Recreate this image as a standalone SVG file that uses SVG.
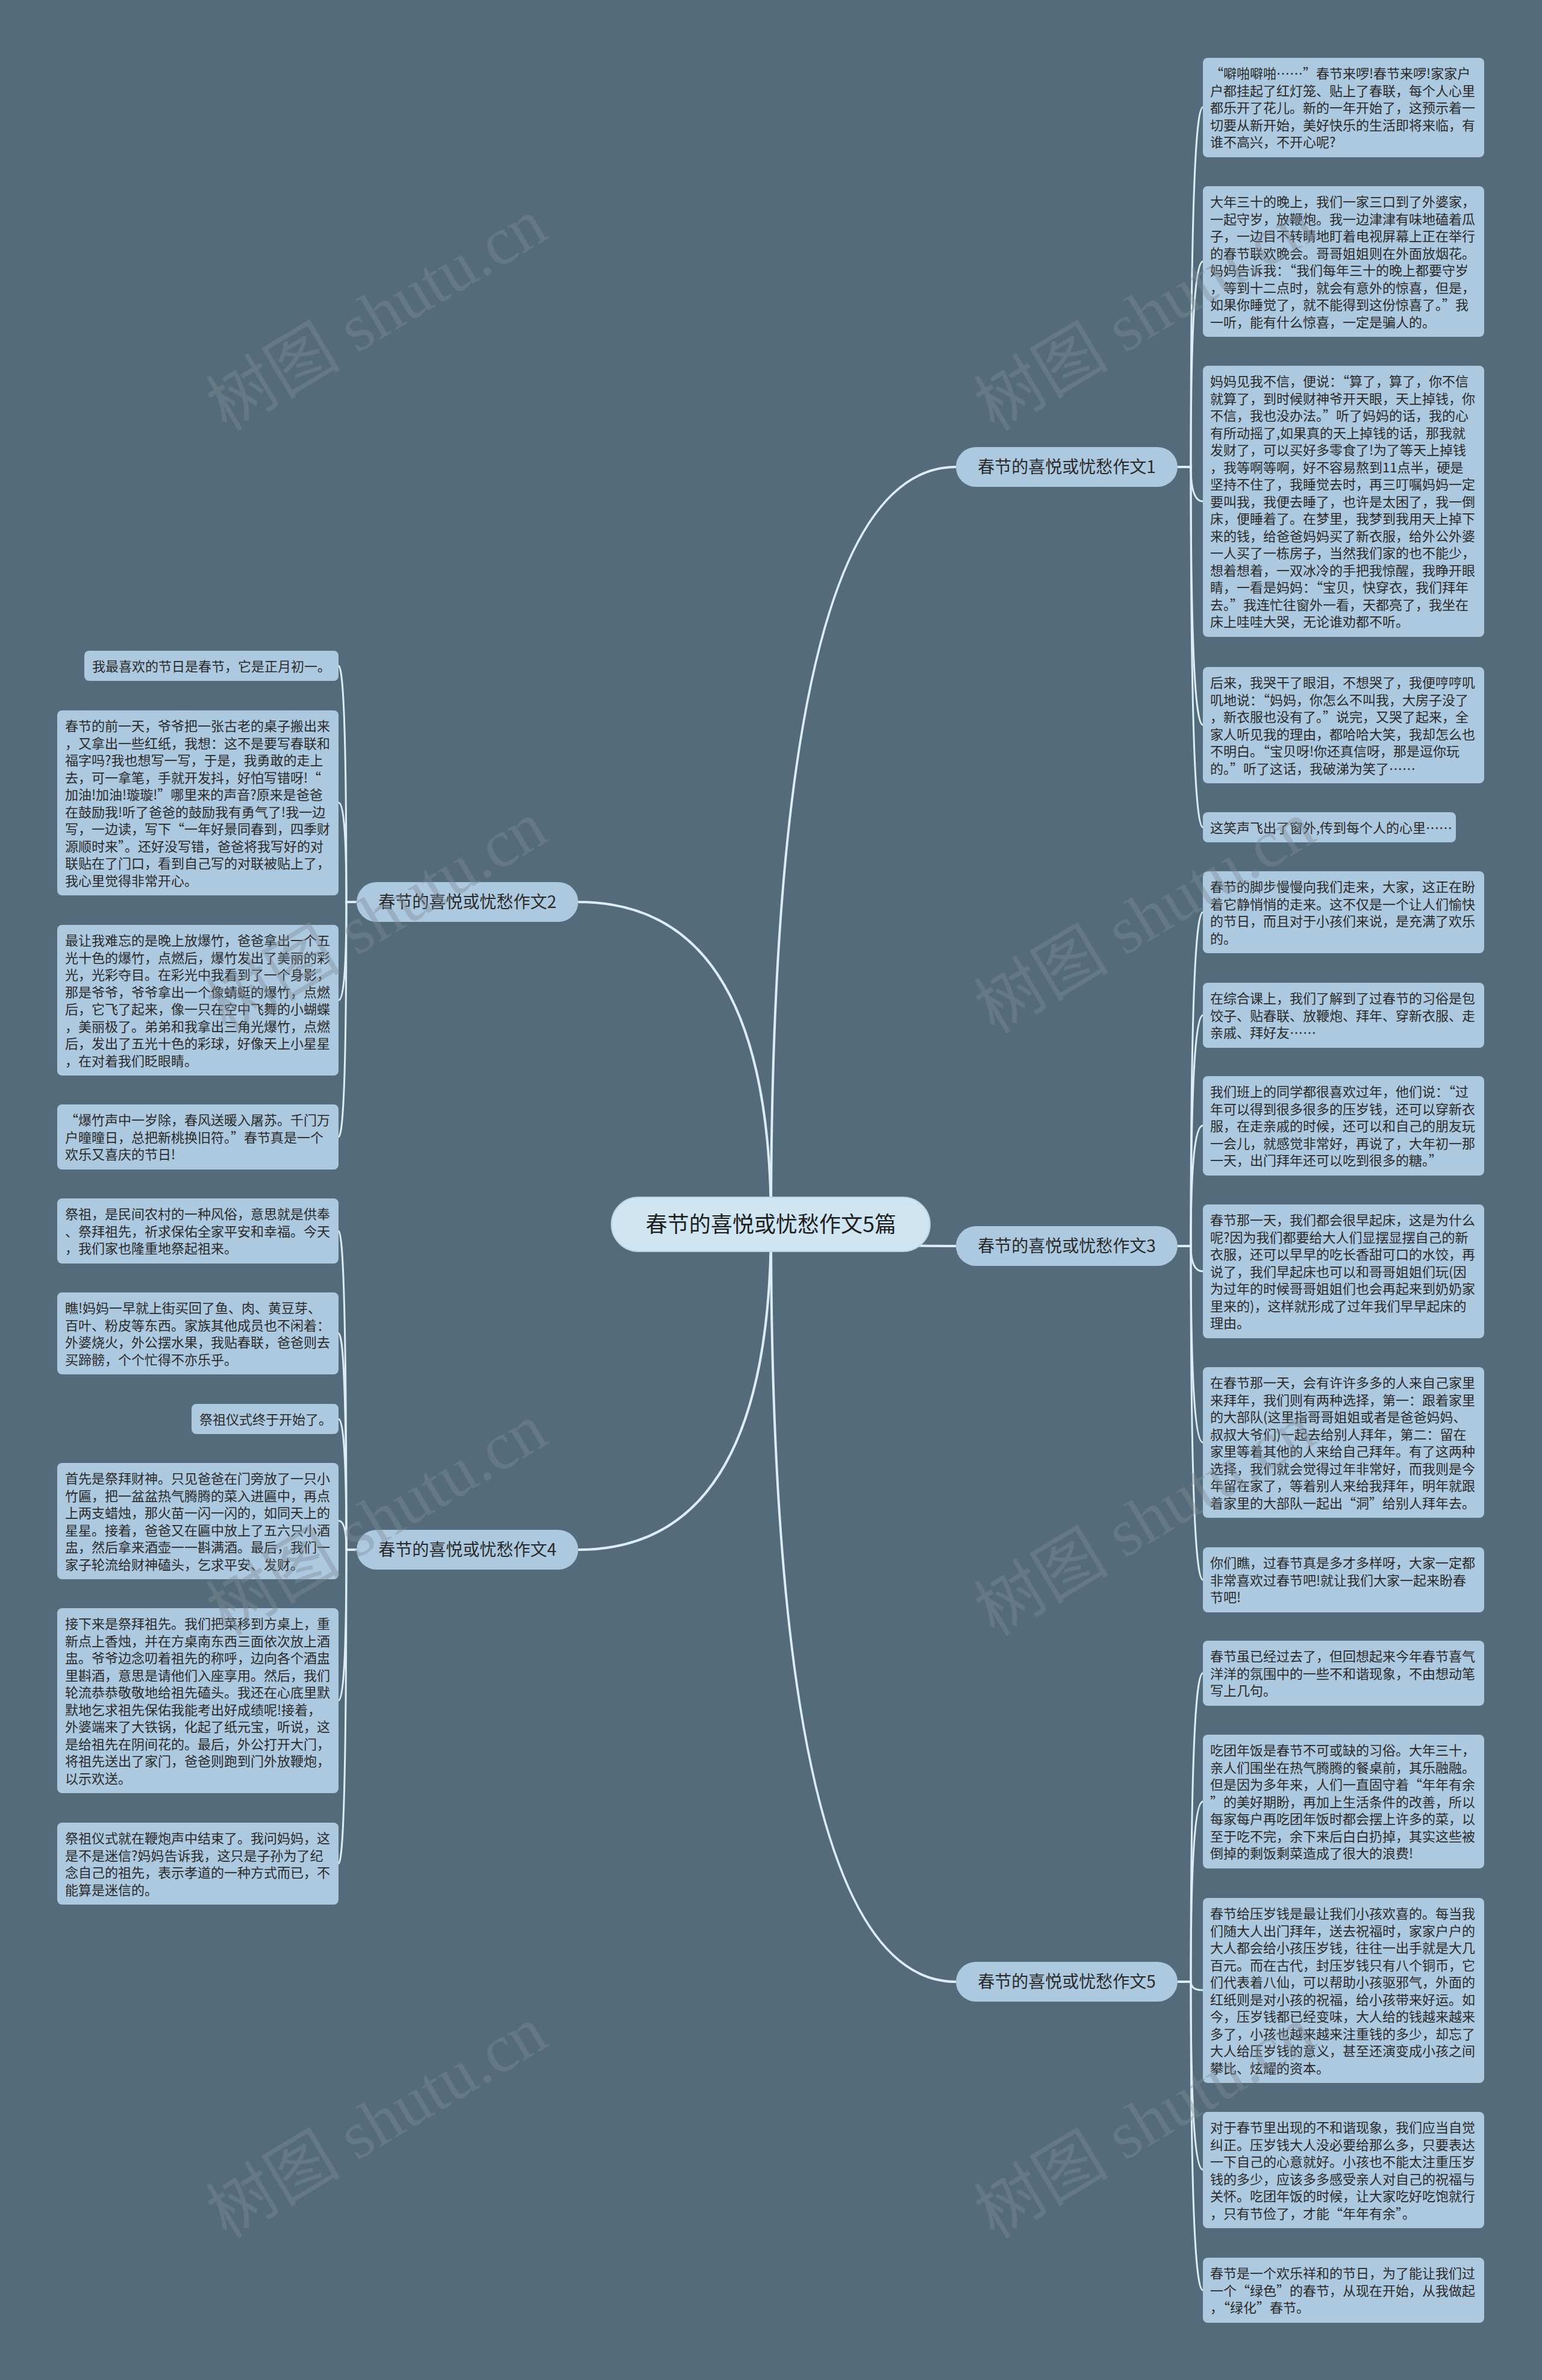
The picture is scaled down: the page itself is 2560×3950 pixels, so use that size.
<svg xmlns="http://www.w3.org/2000/svg" width="2560" height="3950" viewBox="0 0 2560 3950">
<style>
.bg{fill:#546b7b}
.leaf{fill:#adc9e0}
.br{fill:#adc9e0}
.ctr{fill:#d0e5f2;stroke:#bcd5e7;stroke-width:2}
.t{font-family:"Noto Sans CJK SC","Noto Sans",sans-serif;font-size:22px;fill:#2a2a2a}
.bt{font-family:"Noto Sans CJK SC","Noto Sans",sans-serif;font-size:28px;fill:#2a2a2a;text-anchor:middle}
.ct{font-family:"Noto Sans CJK SC","Noto Sans",sans-serif;font-size:36px;fill:#1e1e1e;text-anchor:middle}
.main{fill:none;stroke:#dcedf8;stroke-width:4}
.sub{fill:none;stroke:#dcedf8;stroke-width:3}
.wm{font-family:"Liberation Serif","Noto Sans CJK SC",serif;font-size:112px;fill:#808c96;opacity:0.4;text-anchor:middle}
</style>
<rect class="bg" x="0" y="0" width="2560" height="3950"/>
<g id="connectors">
<path class="main" d="M1280 2032 Q1280 775 1587 775"/>
<path class="main" d="M1280 2032 Q1280 2068 1587 2068"/>
<path class="main" d="M1280 2032 Q1280 3289 1587 3289"/>
<path class="main" d="M1280 2032 Q1280 1497 960 1497"/>
<path class="main" d="M1280 2032 Q1280 2572 960 2572"/>
<path class="sub" d="M1955 775 H1977 Q1977 178 1997 178"/>
<path class="sub" d="M1955 775 H1977 Q1977 434 1997 434"/>
<path class="sub" d="M1955 775 H1977 Q1977 832 1997 832"/>
<path class="sub" d="M1955 775 H1977 Q1977 1203 1997 1203"/>
<path class="sub" d="M1955 775 H1977 Q1977 1373 1997 1373"/>
<path class="sub" d="M1955 2068 H1977 Q1977 1514 1997 1514"/>
<path class="sub" d="M1955 2068 H1977 Q1977 1685 1997 1685"/>
<path class="sub" d="M1955 2068 H1977 Q1977 1868 1997 1868"/>
<path class="sub" d="M1955 2068 H1977 Q1977 2110 1997 2110"/>
<path class="sub" d="M1955 2068 H1977 Q1977 2394 1997 2394"/>
<path class="sub" d="M1955 2068 H1977 Q1977 2622 1997 2622"/>
<path class="sub" d="M1955 3289 H1977 Q1977 2777 1997 2777"/>
<path class="sub" d="M1955 3289 H1977 Q1977 2990 1997 2990"/>
<path class="sub" d="M1955 3289 H1977 Q1977 3303 1997 3303"/>
<path class="sub" d="M1955 3289 H1977 Q1977 3601 1997 3601"/>
<path class="sub" d="M1955 3289 H1977 Q1977 3801 1997 3801"/>
<path class="sub" d="M592 1497 H575 Q575 1105 562 1105"/>
<path class="sub" d="M592 1497 H575 Q575 1332 562 1332"/>
<path class="sub" d="M592 1497 H575 Q575 1660 562 1660"/>
<path class="sub" d="M592 1497 H575 Q575 1887 562 1887"/>
<path class="sub" d="M592 2572 H575 Q575 2043 562 2043"/>
<path class="sub" d="M592 2572 H575 Q575 2213 562 2213"/>
<path class="sub" d="M592 2572 H575 Q575 2355 562 2355"/>
<path class="sub" d="M592 2572 H575 Q575 2524 562 2524"/>
<path class="sub" d="M592 2572 H575 Q575 2822 562 2822"/>
<path class="sub" d="M592 2572 H575 Q575 3093 562 3093"/>
</g>
<g id="n-center">
<rect class="ctr" x="1015" y="1987" width="529" height="90" rx="45"/>
<text class="ct" x="1280" y="2045">春节的喜悦或忧愁作文5篇</text>
</g>
<g id="n-b1">
<rect class="br" x="1587" y="742" width="368" height="66" rx="33"/>
<text class="bt" x="1771" y="785">春节的喜悦或忧愁作文1</text>
</g>
<g id="n-b3">
<rect class="br" x="1587" y="2035" width="368" height="66" rx="33"/>
<text class="bt" x="1771" y="2078">春节的喜悦或忧愁作文3</text>
</g>
<g id="n-b5">
<rect class="br" x="1587" y="3256" width="368" height="66" rx="33"/>
<text class="bt" x="1771" y="3299">春节的喜悦或忧愁作文5</text>
</g>
<g id="n-b2">
<rect class="br" x="592" y="1464" width="368" height="66" rx="33"/>
<text class="bt" x="776" y="1507">春节的喜悦或忧愁作文2</text>
</g>
<g id="n-b4">
<rect class="br" x="592" y="2539" width="368" height="66" rx="33"/>
<text class="bt" x="776" y="2582">春节的喜悦或忧愁作文4</text>
</g>
<g id="n-r1a">
<rect class="leaf" x="1997" y="96" width="467" height="165" rx="8"/>
<text class="t"><tspan x="2009" y="130">“噼啪噼啪……”春节来啰!春节来啰!家家户</tspan><tspan x="2009" y="158.5">户都挂起了红灯笼、贴上了春联，每个人心里</tspan><tspan x="2009" y="187">都乐开了花儿。新的一年开始了，这预示着一</tspan><tspan x="2009" y="215.5">切要从新开始，美好快乐的生活即将来临，有</tspan><tspan x="2009" y="244">谁不高兴，不开心呢?</tspan></text>
</g>
<g id="n-r1b">
<rect class="leaf" x="1997" y="309" width="467" height="250" rx="8"/>
<text class="t"><tspan x="2009" y="343">大年三十的晚上，我们一家三口到了外婆家，</tspan><tspan x="2009" y="371.5">一起守岁，放鞭炮。我一边津津有味地磕着瓜</tspan><tspan x="2009" y="400">子，一边目不转睛地盯着电视屏幕上正在举行</tspan><tspan x="2009" y="428.5">的春节联欢晚会。哥哥姐姐则在外面放烟花。</tspan><tspan x="2009" y="457">妈妈告诉我：“我们每年三十的晚上都要守岁</tspan><tspan x="2009" y="485.5">，等到十二点时，就会有意外的惊喜，但是，</tspan><tspan x="2009" y="514">如果你睡觉了，就不能得到这份惊喜了。”我</tspan><tspan x="2009" y="542.5">一听，能有什么惊喜，一定是骗人的。</tspan></text>
</g>
<g id="n-r1c">
<rect class="leaf" x="1997" y="607" width="467" height="450" rx="8"/>
<text class="t"><tspan x="2009" y="641">妈妈见我不信，便说：“算了，算了，你不信</tspan><tspan x="2009" y="669.5">就算了，到时候财神爷开天眼，天上掉钱，你</tspan><tspan x="2009" y="698">不信，我也没办法。”听了妈妈的话，我的心</tspan><tspan x="2009" y="726.5">有所动摇了,如果真的天上掉钱的话，那我就</tspan><tspan x="2009" y="755">发财了，可以买好多零食了!为了等天上掉钱</tspan><tspan x="2009" y="783.5">，我等啊等啊，好不容易熬到11点半，硬是</tspan><tspan x="2009" y="812">坚持不住了，我睡觉去时，再三叮嘱妈妈一定</tspan><tspan x="2009" y="840.5">要叫我，我便去睡了，也许是太困了，我一倒</tspan><tspan x="2009" y="869">床，便睡着了。在梦里，我梦到我用天上掉下</tspan><tspan x="2009" y="897.5">来的钱，给爸爸妈妈买了新衣服，给外公外婆</tspan><tspan x="2009" y="926">一人买了一栋房子，当然我们家的也不能少，</tspan><tspan x="2009" y="954.5">想着想着，一双冰冷的手把我惊醒，我睁开眼</tspan><tspan x="2009" y="983">睛，一看是妈妈：“宝贝，快穿衣，我们拜年</tspan><tspan x="2009" y="1011.5">去。”我连忙往窗外一看，天都亮了，我坐在</tspan><tspan x="2009" y="1040">床上哇哇大哭，无论谁劝都不听。</tspan></text>
</g>
<g id="n-r1d">
<rect class="leaf" x="1997" y="1107" width="467" height="193" rx="8"/>
<text class="t"><tspan x="2009" y="1141">后来，我哭干了眼泪，不想哭了，我便哼哼叽</tspan><tspan x="2009" y="1169.5">叽地说：“妈妈，你怎么不叫我，大房子没了</tspan><tspan x="2009" y="1198">，新衣服也没有了。”说完，又哭了起来，全</tspan><tspan x="2009" y="1226.5">家人听见我的理由，都哈哈大笑，我却怎么也</tspan><tspan x="2009" y="1255">不明白。“宝贝呀!你还真信呀，那是逗你玩</tspan><tspan x="2009" y="1283.5">的。”听了这话，我破涕为笑了……</tspan></text>
</g>
<g id="n-r1e">
<rect class="leaf" x="1997" y="1348" width="420" height="50" rx="8"/>
<text class="t"><tspan x="2009" y="1382">这笑声飞出了窗外,传到每个人的心里……</tspan></text>
</g>
<g id="n-r3a">
<rect class="leaf" x="1997" y="1446" width="467" height="136" rx="8"/>
<text class="t"><tspan x="2009" y="1480">春节的脚步慢慢向我们走来，大家，这正在盼</tspan><tspan x="2009" y="1508.5">着它静悄悄的走来。这不仅是一个让人们愉快</tspan><tspan x="2009" y="1537">的节日，而且对于小孩们来说，是充满了欢乐</tspan><tspan x="2009" y="1565.5">的。</tspan></text>
</g>
<g id="n-r3b">
<rect class="leaf" x="1997" y="1631" width="467" height="108" rx="8"/>
<text class="t"><tspan x="2009" y="1665">在综合课上，我们了解到了过春节的习俗是包</tspan><tspan x="2009" y="1693.5">饺子、贴春联、放鞭炮、拜年、穿新衣服、走</tspan><tspan x="2009" y="1722">亲戚、拜好友……</tspan></text>
</g>
<g id="n-r3c">
<rect class="leaf" x="1997" y="1786" width="467" height="165" rx="8"/>
<text class="t"><tspan x="2009" y="1820">我们班上的同学都很喜欢过年，他们说：“过</tspan><tspan x="2009" y="1848.5">年可以得到很多很多的压岁钱，还可以穿新衣</tspan><tspan x="2009" y="1877">服，在走亲戚的时候，还可以和自己的朋友玩</tspan><tspan x="2009" y="1905.5">一会儿，就感觉非常好，再说了，大年初一那</tspan><tspan x="2009" y="1934">一天，出门拜年还可以吃到很多的糖。”</tspan></text>
</g>
<g id="n-r3d">
<rect class="leaf" x="1997" y="1999" width="467" height="222" rx="8"/>
<text class="t"><tspan x="2009" y="2033">春节那一天，我们都会很早起床，这是为什么</tspan><tspan x="2009" y="2061.5">呢?因为我们都要给大人们显摆显摆自己的新</tspan><tspan x="2009" y="2090">衣服，还可以早早的吃长香甜可口的水饺，再</tspan><tspan x="2009" y="2118.5">说了，我们早起床也可以和哥哥姐姐们玩(因</tspan><tspan x="2009" y="2147">为过年的时候哥哥姐姐们也会再起来到奶奶家</tspan><tspan x="2009" y="2175.5">里来的)，这样就形成了过年我们早早起床的</tspan><tspan x="2009" y="2204">理由。</tspan></text>
</g>
<g id="n-r3e">
<rect class="leaf" x="1997" y="2269" width="467" height="250" rx="8"/>
<text class="t"><tspan x="2009" y="2303">在春节那一天，会有许许多多的人来自己家里</tspan><tspan x="2009" y="2331.5">来拜年，我们则有两种选择，第一：跟着家里</tspan><tspan x="2009" y="2360">的大部队(这里指哥哥姐姐或者是爸爸妈妈、</tspan><tspan x="2009" y="2388.5">叔叔大爷们)一起去给别人拜年，第二：留在</tspan><tspan x="2009" y="2417">家里等着其他的人来给自己拜年。有了这两种</tspan><tspan x="2009" y="2445.5">选择，我们就会觉得过年非常好，而我则是今</tspan><tspan x="2009" y="2474">年留在家了，等着别人来给我拜年，明年就跟</tspan><tspan x="2009" y="2502.5">着家里的大部队一起出“洞”给别人拜年去。</tspan></text>
</g>
<g id="n-r3f">
<rect class="leaf" x="1997" y="2568" width="467" height="108" rx="8"/>
<text class="t"><tspan x="2009" y="2602">你们瞧，过春节真是多才多样呀，大家一定都</tspan><tspan x="2009" y="2630.5">非常喜欢过春节吧!就让我们大家一起来盼春</tspan><tspan x="2009" y="2659">节吧!</tspan></text>
</g>
<g id="n-r5a">
<rect class="leaf" x="1997" y="2723" width="467" height="108" rx="8"/>
<text class="t"><tspan x="2009" y="2757">春节虽已经过去了，但回想起来今年春节喜气</tspan><tspan x="2009" y="2785.5">洋洋的氛围中的一些不和谐现象，不由想动笔</tspan><tspan x="2009" y="2814">写上几句。</tspan></text>
</g>
<g id="n-r5b">
<rect class="leaf" x="1997" y="2879" width="467" height="222" rx="8"/>
<text class="t"><tspan x="2009" y="2913">吃团年饭是春节不可或缺的习俗。大年三十，</tspan><tspan x="2009" y="2941.5">亲人们围坐在热气腾腾的餐桌前，其乐融融。</tspan><tspan x="2009" y="2970">但是因为多年来，人们一直固守着“年年有余</tspan><tspan x="2009" y="2998.5">”的美好期盼，再加上生活条件的改善，所以</tspan><tspan x="2009" y="3027">每家每户再吃团年饭时都会摆上许多的菜，以</tspan><tspan x="2009" y="3055.5">至于吃不完，余下来后白白扔掉，其实这些被</tspan><tspan x="2009" y="3084">倒掉的剩饭剩菜造成了很大的浪费!</tspan></text>
</g>
<g id="n-r5c">
<rect class="leaf" x="1997" y="3150" width="467" height="307" rx="8"/>
<text class="t"><tspan x="2009" y="3184">春节给压岁钱是最让我们小孩欢喜的。每当我</tspan><tspan x="2009" y="3212.5">们随大人出门拜年，送去祝福时，家家户户的</tspan><tspan x="2009" y="3241">大人都会给小孩压岁钱，往往一出手就是大几</tspan><tspan x="2009" y="3269.5">百元。而在古代，封压岁钱只有八个铜币，它</tspan><tspan x="2009" y="3298">们代表着八仙，可以帮助小孩驱邪气，外面的</tspan><tspan x="2009" y="3326.5">红纸则是对小孩的祝福，给小孩带来好运。如</tspan><tspan x="2009" y="3355">今，压岁钱都已经变味，大人给的钱越来越来</tspan><tspan x="2009" y="3383.5">多了，小孩也越来越来注重钱的多少，却忘了</tspan><tspan x="2009" y="3412">大人给压岁钱的意义，甚至还演变成小孩之间</tspan><tspan x="2009" y="3440.5">攀比、炫耀的资本。</tspan></text>
</g>
<g id="n-r5d">
<rect class="leaf" x="1997" y="3505" width="467" height="193" rx="8"/>
<text class="t"><tspan x="2009" y="3539">对于春节里出现的不和谐现象，我们应当自觉</tspan><tspan x="2009" y="3567.5">纠正。压岁钱大人没必要给那么多，只要表达</tspan><tspan x="2009" y="3596">一下自己的心意就好。小孩也不能太注重压岁</tspan><tspan x="2009" y="3624.5">钱的多少，应该多多感受亲人对自己的祝福与</tspan><tspan x="2009" y="3653">关怀。吃团年饭的时候，让大家吃好吃饱就行</tspan><tspan x="2009" y="3681.5">，只有节俭了，才能“年年有余”。</tspan></text>
</g>
<g id="n-r5e">
<rect class="leaf" x="1997" y="3747" width="467" height="108" rx="8"/>
<text class="t"><tspan x="2009" y="3781">春节是一个欢乐祥和的节日，为了能让我们过</tspan><tspan x="2009" y="3809.5">一个“绿色”的春节，从现在开始，从我做起</tspan><tspan x="2009" y="3838">，“绿化”春节。</tspan></text>
</g>
<g id="n-l2a">
<rect class="leaf" x="140" y="1080" width="422" height="50" rx="8"/>
<text class="t"><tspan x="153" y="1114">我最喜欢的节日是春节，它是正月初一。</tspan></text>
</g>
<g id="n-l2b">
<rect class="leaf" x="95" y="1179" width="467" height="307" rx="8"/>
<text class="t"><tspan x="108" y="1213">春节的前一天，爷爷把一张古老的桌子搬出来</tspan><tspan x="108" y="1241.5">，又拿出一些红纸，我想：这不是要写春联和</tspan><tspan x="108" y="1270">福字吗?我也想写一写，于是，我勇敢的走上</tspan><tspan x="108" y="1298.5">去，可一拿笔，手就开发抖，好怕写错呀!“</tspan><tspan x="108" y="1327">加油!加油!璇璇!”哪里来的声音?原来是爸爸</tspan><tspan x="108" y="1355.5">在鼓励我!听了爸爸的鼓励我有勇气了!我一边</tspan><tspan x="108" y="1384">写，一边读，写下“一年好景同春到，四季财</tspan><tspan x="108" y="1412.5">源顺时来”。还好没写错，爸爸将我写好的对</tspan><tspan x="108" y="1441">联贴在了门口，看到自己写的对联被贴上了，</tspan><tspan x="108" y="1469.5">我心里觉得非常开心。</tspan></text>
</g>
<g id="n-l2c">
<rect class="leaf" x="95" y="1535" width="467" height="250" rx="8"/>
<text class="t"><tspan x="108" y="1569">最让我难忘的是晚上放爆竹，爸爸拿出一个五</tspan><tspan x="108" y="1597.5">光十色的爆竹，点燃后，爆竹发出了美丽的彩</tspan><tspan x="108" y="1626">光，光彩夺目。在彩光中我看到了一个身影，</tspan><tspan x="108" y="1654.5">那是爷爷，爷爷拿出一个像蜻蜓的爆竹，点燃</tspan><tspan x="108" y="1683">后，它飞了起来，像一只在空中飞舞的小蝴蝶</tspan><tspan x="108" y="1711.5">，美丽极了。弟弟和我拿出三角光爆竹，点燃</tspan><tspan x="108" y="1740">后，发出了五光十色的彩球，好像天上小星星</tspan><tspan x="108" y="1768.5">，在对着我们眨眼睛。</tspan></text>
</g>
<g id="n-l2d">
<rect class="leaf" x="95" y="1833" width="467" height="108" rx="8"/>
<text class="t"><tspan x="108" y="1867">“爆竹声中一岁除，春风送暖入屠苏。千门万</tspan><tspan x="108" y="1895.5">户曈曈日，总把新桃换旧符。”春节真是一个</tspan><tspan x="108" y="1924">欢乐又喜庆的节日!</tspan></text>
</g>
<g id="n-l4a">
<rect class="leaf" x="95" y="1989" width="467" height="108" rx="8"/>
<text class="t"><tspan x="108" y="2023">祭祖，是民间农村的一种风俗，意思就是供奉</tspan><tspan x="108" y="2051.5">、祭拜祖先，祈求保佑全家平安和幸福。今天</tspan><tspan x="108" y="2080">，我们家也隆重地祭起祖来。</tspan></text>
</g>
<g id="n-l4b">
<rect class="leaf" x="95" y="2145" width="467" height="136" rx="8"/>
<text class="t"><tspan x="108" y="2179">瞧!妈妈一早就上街买回了鱼、肉、黄豆芽、</tspan><tspan x="108" y="2207.5">百叶、粉皮等东西。家族其他成员也不闲着：</tspan><tspan x="108" y="2236">外婆烧火，外公摆水果，我贴春联，爸爸则去</tspan><tspan x="108" y="2264.5">买蹄髈，个个忙得不亦乐乎。</tspan></text>
</g>
<g id="n-l4c">
<rect class="leaf" x="318" y="2330" width="244" height="50" rx="8"/>
<text class="t"><tspan x="331" y="2364">祭祖仪式终于开始了。</tspan></text>
</g>
<g id="n-l4d">
<rect class="leaf" x="95" y="2428" width="467" height="193" rx="8"/>
<text class="t"><tspan x="108" y="2462">首先是祭拜财神。只见爸爸在门旁放了一只小</tspan><tspan x="108" y="2490.5">竹匾，把一盆盆热气腾腾的菜入进匾中，再点</tspan><tspan x="108" y="2519">上两支蜡烛，那火苗一闪一闪的，如同天上的</tspan><tspan x="108" y="2547.5">星星。接着，爸爸又在匾中放上了五六只小酒</tspan><tspan x="108" y="2576">盅，然后拿来酒壶一一斟满酒。最后，我们一</tspan><tspan x="108" y="2604.5">家子轮流给财神磕头，乞求平安、发财。</tspan></text>
</g>
<g id="n-l4e">
<rect class="leaf" x="95" y="2669" width="467" height="307" rx="8"/>
<text class="t"><tspan x="108" y="2703">接下来是祭拜祖先。我们把菜移到方桌上，重</tspan><tspan x="108" y="2731.5">新点上香烛，并在方桌南东西三面依次放上酒</tspan><tspan x="108" y="2760">盅。爷爷边念叨着祖先的称呼，边向各个酒盅</tspan><tspan x="108" y="2788.5">里斟酒，意思是请他们入座享用。然后，我们</tspan><tspan x="108" y="2817">轮流恭恭敬敬地给祖先磕头。我还在心底里默</tspan><tspan x="108" y="2845.5">默地乞求祖先保佑我能考出好成绩呢!接着，</tspan><tspan x="108" y="2874">外婆端来了大铁锅，化起了纸元宝，听说，这</tspan><tspan x="108" y="2902.5">是给祖先在阴间花的。最后，外公打开大门，</tspan><tspan x="108" y="2931">将祖先送出了家门，爸爸则跑到门外放鞭炮，</tspan><tspan x="108" y="2959.5">以示欢送。</tspan></text>
</g>
<g id="n-l4f">
<rect class="leaf" x="95" y="3025" width="467" height="136" rx="8"/>
<text class="t"><tspan x="108" y="3059">祭祖仪式就在鞭炮声中结束了。我问妈妈，这</tspan><tspan x="108" y="3087.5">是不是迷信?妈妈告诉我，这只是子孙为了纪</tspan><tspan x="108" y="3116">念自己的祖先，表示孝道的一种方式而已，不</tspan><tspan x="108" y="3144.5">能算是迷信的。</tspan></text>
</g>
<g id="watermarks">
<text class="wm" transform="translate(645 555) rotate(-31)">树图 shutu.cn</text>
<text class="wm" transform="translate(645 1555) rotate(-31)">树图 shutu.cn</text>
<text class="wm" transform="translate(645 2555) rotate(-31)">树图 shutu.cn</text>
<text class="wm" transform="translate(645 3555) rotate(-31)">树图 shutu.cn</text>
<text class="wm" transform="translate(1920 555) rotate(-31)">树图 shutu.cn</text>
<text class="wm" transform="translate(1920 1555) rotate(-31)">树图 shutu.cn</text>
<text class="wm" transform="translate(1920 2555) rotate(-31)">树图 shutu.cn</text>
<text class="wm" transform="translate(1920 3555) rotate(-31)">树图 shutu.cn</text>
</g>
</svg>
